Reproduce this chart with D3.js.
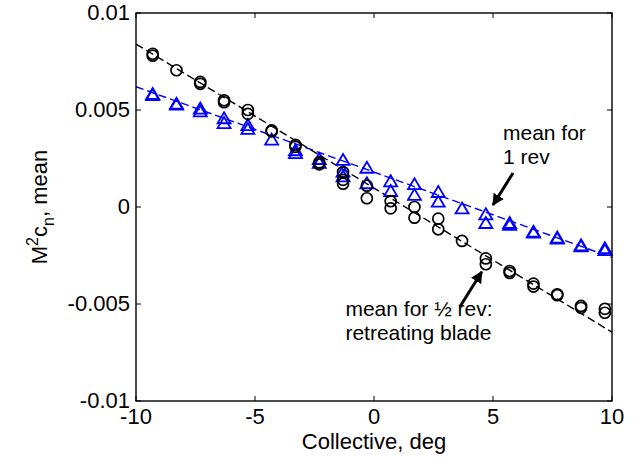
<!DOCTYPE html>
<html>
<head>
<meta charset="utf-8">
<script src="https://cdn.jsdelivr.net/npm/d3@7"></script>
<style>
  body { margin: 0; background: #fff; }
  text { font-family: Arial, "Liberation Sans", sans-serif; }
</style>
</head>
<body>
<script>
// collective angle (deg) and M^2 c_n mean, half rev (circles)
var circleX = [-9.3,-9.3,-8.3,-7.3,-7.3,-6.3,-6.3,-5.3,-5.3,-4.3,-4.3,-3.3,-3.3,-2.3,-2.3,
               -1.3,-1.3,-1.3,-0.3,-0.3,0.7,0.7,1.7,1.7,2.7,2.7,3.7,4.7,4.7,5.7,5.7,
               6.7,6.7,7.7,7.7,8.7,8.7,9.7,9.7];
var circleY = [0.0079,0.0078,0.00705,0.00645,0.00635,0.0055,0.0054,0.0050,0.0048,0.00395,0.0039,0.0032,0.0031,0.0023,0.0022,
               0.0018,0.0014,0.0012,0.0011,0.00045,0.0003,-0.00007,0.0,-0.00055,-0.0006,-0.00115,-0.00175,-0.00265,-0.00295,-0.0033,-0.0034,
               -0.00395,-0.0041,-0.00455,-0.0045,-0.0051,-0.0052,-0.00525,-0.00545];
// full rev (triangles)
var triX = [-9.3,-9.3,-8.3,-8.3,-7.3,-7.3,-6.3,-6.3,-5.3,-5.3,-4.3,-3.3,-3.3,-2.3,-2.3,
            -1.3,-1.3,-1.3,-0.3,-0.3,0.7,0.7,1.7,1.7,2.7,2.7,3.7,4.7,4.7,5.7,5.7,
            6.7,6.7,7.7,7.7,8.7,8.7,9.7,9.7];
var triY = [0.00585,0.0058,0.00535,0.0053,0.0051,0.00495,0.0046,0.00435,0.00425,0.00405,0.0035,0.00295,0.0028,0.0025,0.0023,
            0.00245,0.00185,0.0016,0.00205,0.00125,0.00135,0.00085,0.0012,0.00065,0.0008,0.0003,-0.00005,-0.00035,-0.0008,-0.0008,-0.0009,
            -0.00125,-0.0013,-0.00155,-0.0016,-0.00195,-0.002,-0.0021,-0.0022];
// dashed fit lines
var fitX = [-10, 10];
var circleFitY = [0.0084, -0.00645];
var triFitY = [0.0062, -0.0026];

var xTicks = [-10, -5, 0, 5, 10];
var yTicks = [-0.01, -0.005, 0, 0.005, 0.01];
var yTickLabels = ["-0.01", "-0.005", "0", "0.005", "0.01"];

var width = 637, height = 459;
var margin = {left: 136, right: 25, top: 13, bottom: 58};
var pw = width - margin.left - margin.right;
var ph = height - margin.top - margin.bottom;
var fs = 22, fsNote = 21;

var svg = d3.select("body").append("svg").attr("width", width).attr("height", height);
var g = svg.append("g").attr("transform", "translate(" + margin.left + "," + margin.top + ")");

var x = d3.scaleLinear().domain([-10, 10]).range([0, pw]);
var y = d3.scaleLinear().domain([-0.01, 0.01]).range([ph, 0]);

// dashed fits
var line = d3.line().x(function(d){ return x(d[0]); }).y(function(d){ return y(d[1]); });
g.append("path").datum(d3.zip(fitX, triFitY)).attr("d", line)
  .attr("fill", "none").attr("stroke", "#0000ff").attr("stroke-width", 1.4).attr("stroke-dasharray", "8,4");
g.append("path").datum(d3.zip(fitX, circleFitY)).attr("d", line)
  .attr("fill", "none").attr("stroke", "#000").attr("stroke-width", 1.4).attr("stroke-dasharray", "8,4");

// triangles
var tw = 6.5, th = 5.5;
g.selectAll(".tri").data(d3.zip(triX, triY)).enter().append("path")
  .attr("class", "tri")
  .attr("d", function(d){
    var cx = x(d[0]), cy = y(d[1]);
    return "M" + cx + "," + (cy - th) + "L" + (cx + tw) + "," + (cy + th) + "L" + (cx - tw) + "," + (cy + th) + "Z";
  })
  .attr("fill", "none").attr("stroke", "#0000ff").attr("stroke-width", 1.8);

// circles
g.selectAll(".circ").data(d3.zip(circleX, circleY)).enter().append("circle")
  .attr("class", "circ")
  .attr("cx", function(d){ return x(d[0]); })
  .attr("cy", function(d){ return y(d[1]); })
  .attr("r", 5.5)
  .attr("fill", "none").attr("stroke", "#000").attr("stroke-width", 1.7);

// box and inner ticks
g.append("rect").attr("width", pw).attr("height", ph).attr("fill", "none").attr("stroke", "#000").attr("stroke-width", 1.4);
var tl = 5;
xTicks.forEach(function(t){
  g.append("line").attr("x1", x(t)).attr("x2", x(t)).attr("y1", ph).attr("y2", ph - tl).attr("stroke", "#000");
  g.append("line").attr("x1", x(t)).attr("x2", x(t)).attr("y1", 0).attr("y2", tl).attr("stroke", "#000");
  g.append("text").attr("x", x(t)).attr("y", ph + 23).attr("text-anchor", "middle")
    .attr("font-size", fs).text(t);
});
yTicks.forEach(function(t, i){
  g.append("line").attr("x1", 0).attr("x2", tl).attr("y1", y(t)).attr("y2", y(t)).attr("stroke", "#000");
  g.append("line").attr("x1", pw).attr("x2", pw - tl).attr("y1", y(t)).attr("y2", y(t)).attr("stroke", "#000");
  g.append("text").attr("x", -6).attr("y", y(t) + 7).attr("text-anchor", "end")
    .attr("font-size", fs).text(yTickLabels[i]);
});

// axis labels
svg.append("text").attr("x", margin.left + pw / 2).attr("y", 449).attr("text-anchor", "middle")
  .attr("font-size", fs).text("Collective, deg");
var yl = svg.append("text").attr("transform", "translate(47," + (margin.top + ph / 2) + ") rotate(-90)")
  .attr("text-anchor", "middle").attr("font-size", fs);
yl.append("tspan").text("M");
yl.append("tspan").attr("dy", -9).attr("font-size", 16).text("2");
yl.append("tspan").attr("dy", 9).text("c");
yl.append("tspan").attr("dy", 7).attr("font-size", 16).text("n");
yl.append("tspan").attr("dy", -7).text(", mean");

// annotations
var notes = [
  {x: 5.42, y: 0.00345, t: "mean for"},
  {x: 5.42, y: 0.0022, t: "1 rev"},
  {x: -1.2, y: -0.00564, t: "mean for \u00bd rev:"},
  {x: -1.2, y: -0.00688, t: "retreating blade"}
];
g.selectAll(".note").data(notes).enter().append("text")
  .attr("x", function(d){ return x(d.x); })
  .attr("y", function(d){ return y(d.y); })
  .attr("font-size", fsNote).text(function(d){ return d.t; });

svg.append("defs").append("marker").attr("id", "ah")
  .attr("viewBox", "0 0 10 10").attr("refX", 9).attr("refY", 5)
  .attr("markerWidth", 4).attr("markerHeight", 4).attr("orient", "auto")
  .append("path").attr("d", "M0,0L10,5L0,10Z").attr("fill", "#000");

var arrows = [
  {x1: 5.84, y1: 0.00175, x2: 5.0, y2: 0.0001},
  {x1: 3.61, y1: -0.00514, x2: 4.53, y2: -0.00334}
];
g.selectAll(".arr").data(arrows).enter().append("line")
  .attr("x1", function(d){ return x(d.x1); })
  .attr("y1", function(d){ return y(d.y1); })
  .attr("x2", function(d){ return x(d.x2); })
  .attr("y2", function(d){ return y(d.y2); })
  .attr("stroke", "#000").attr("stroke-width", 3).attr("marker-end", "url(#ah)");
</script>
</body>
</html>
